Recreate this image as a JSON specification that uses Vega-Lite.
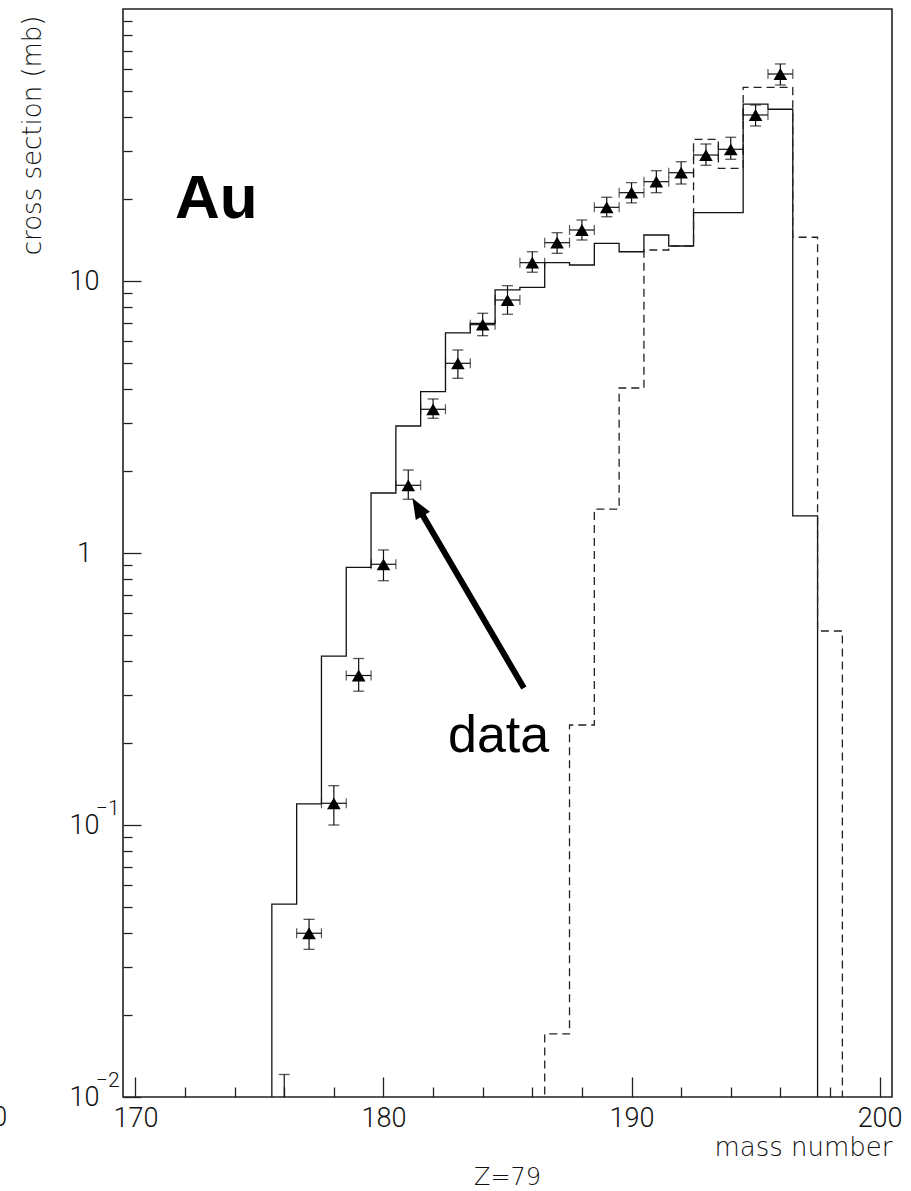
{
  "$schema": "https://vega.github.io/schema/vega-lite/v6.json",
  "width": 769,
  "height": 1088,
  "autosize": {"type": "none"},
  "padding": {"left": 123, "top": 9, "right": 19, "bottom": 94},
  "background": "white",
  "config": {
    "view": {"stroke": "#222", "strokeWidth": 1.6},
    "axis": {
      "domain": false, "grid": false,
      "tickColor": "#222", "tickWidth": 1.3,
      "labelFont": "Roboto", "labelFontWeight": 300, "labelFontSize": 27, "labelColor": "#111",
      "titleFont": "DejaVu Sans", "titleFontWeight": 200, "titleFontSize": 26, "titleColor": "#111",
      "labelOverlap": false, "labelFlush": false
    }
  },
  "title": {"text": "Z=79", "orient": "bottom", "anchor": "middle", "font": "DejaVu Sans", "fontSize": 24, "fontWeight": 200, "color": "#111", "offset": 6, "baseline": "top"},
  "datasets": {
    "solid": [
      {"A": 175, "v": 0.0001}, {"A": 176, "v": 0.0512}, {"A": 177, "v": 0.1195}, {"A": 178, "v": 0.418},
      {"A": 179, "v": 0.886}, {"A": 180, "v": 1.662}, {"A": 181, "v": 2.93}, {"A": 182, "v": 3.92},
      {"A": 183, "v": 6.45}, {"A": 184, "v": 6.99}, {"A": 185, "v": 9.27}, {"A": 186, "v": 9.48},
      {"A": 187, "v": 11.68}, {"A": 188, "v": 11.45}, {"A": 189, "v": 13.76}, {"A": 190, "v": 12.81},
      {"A": 191, "v": 14.76}, {"A": 192, "v": 13.45}, {"A": 193, "v": 17.83}, {"A": 194, "v": 17.83},
      {"A": 195, "v": 44.7}, {"A": 196, "v": 42.8}, {"A": 197, "v": 1.37}, {"A": 198, "v": 0.0001}
    ],
    "dashed": [
      {"A": 186, "v": 0.0001}, {"A": 187, "v": 0.01705}, {"A": 188, "v": 0.2332}, {"A": 189, "v": 1.451},
      {"A": 190, "v": 4.043}, {"A": 191, "v": 13.0}, {"A": 192, "v": 13.45}, {"A": 193, "v": 33.19},
      {"A": 194, "v": 25.96}, {"A": 195, "v": 51.53}, {"A": 196, "v": 51.53}, {"A": 197, "v": 14.48},
      {"A": 198, "v": 0.5166}, {"A": 199, "v": 0.0001}
    ],
    "points": [
      {"A": 176, "xl": 175.5, "xr": 176.5, "v": 0.008, "elo": 0.005, "ehi": 0.0121},
      {"A": 177, "xl": 176.5, "xr": 177.5, "v": 0.0400, "elo": 0.0349, "ehi": 0.0450},
      {"A": 178, "xl": 177.5, "xr": 178.5, "v": 0.1202, "elo": 0.100, "ehi": 0.1395},
      {"A": 179, "xl": 178.5, "xr": 179.5, "v": 0.3545, "elo": 0.3104, "ehi": 0.4094},
      {"A": 180, "xl": 179.5, "xr": 180.5, "v": 0.909, "elo": 0.791, "ehi": 1.026},
      {"A": 181, "xl": 180.5, "xr": 181.5, "v": 1.774, "elo": 1.576, "ehi": 2.019},
      {"A": 182, "xl": 181.5, "xr": 182.5, "v": 3.376, "elo": 3.128, "ehi": 3.683},
      {"A": 183, "xl": 182.5, "xr": 183.5, "v": 4.982, "elo": 4.388, "ehi": 5.577},
      {"A": 184, "xl": 183.5, "xr": 184.5, "v": 6.908, "elo": 6.294, "ehi": 7.609},
      {"A": 185, "xl": 184.5, "xr": 185.5, "v": 8.513, "elo": 7.545, "ehi": 9.61},
      {"A": 186, "xl": 185.5, "xr": 186.5, "v": 11.68, "elo": 10.77, "ehi": 12.81},
      {"A": 187, "xl": 186.5, "xr": 187.5, "v": 13.83, "elo": 12.64, "ehi": 15.05},
      {"A": 188, "xl": 187.5, "xr": 188.5, "v": 15.40, "elo": 14.15, "ehi": 16.76},
      {"A": 189, "xl": 188.5, "xr": 189.5, "v": 18.66, "elo": 17.23, "ehi": 20.32},
      {"A": 190, "xl": 189.5, "xr": 190.5, "v": 21.12, "elo": 19.36, "ehi": 22.98},
      {"A": 191, "xl": 190.5, "xr": 191.5, "v": 23.18, "elo": 21.12, "ehi": 25.44},
      {"A": 192, "xl": 191.5, "xr": 192.5, "v": 25.01, "elo": 22.73, "ehi": 27.45},
      {"A": 193, "xl": 192.5, "xr": 193.5, "v": 29.05, "elo": 26.63, "ehi": 31.89},
      {"A": 194, "xl": 193.5, "xr": 194.5, "v": 30.49, "elo": 28.02, "ehi": 33.76},
      {"A": 195, "xl": 194.5, "xr": 195.5, "v": 40.77, "elo": 37.15, "ehi": 44.37},
      {"A": 196, "xl": 195.5, "xr": 196.5, "v": 57.68, "elo": 52.55, "ehi": 62.8}
    ],
    "element": [{"x": 171.6, "y": 17.0, "t": "Au"}],
    "note": [{"x": 182.6, "y": 0.1855, "t": "data"}],
    "edge": [{"x": 164.83, "y": 0.01, "t": "200"}],
    "exps": [{"x": 169.5, "y": 0.1, "t": "−1"}, {"x": 169.5, "y": 0.01, "t": "−2"}],
    "arrow": [
      {"x": 185.66, "y": 0.319, "x2": 181.38, "y2": 1.48, "tipx": 181.17, "tipy": 1.589}
    ]
  },
  "resolve": {"axis": {"x": "independent", "y": "independent"}},
  "layer": [
    {
      "data": {"name": "solid"},
      "mark": {"type": "line", "interpolate": "step", "clip": true, "color": "#111", "strokeWidth": 1.3},
      "encoding": {
        "x": {"field": "A", "type": "quantitative",
              "scale": {"domain": [169.5, 200.5], "nice": false, "zero": false},
              "axis": {"orient": "bottom", "values": [170, 180, 190, 200], "tickSize": -20, "labelPadding": 28, "labelBaseline": "top", "format": "d",
                       "title": "mass number", "titleX": 769, "titleY": 50, "titleAlign": "right", "titleAnchor": "end", "titleBaseline": "middle"}},
        "y": {"field": "v", "type": "quantitative",
              "scale": {"type": "log", "domain": [0.01, 100], "nice": false},
              "axis": {"orient": "left", "values": [0.01, 0.1, 1, 10], "tickSize": -18, "labelPadding": 57, "labelAlign": "center", "labelBaseline": "middle",
                       "labelExpr": "datum.value >= 5 ? '10' : datum.value >= 0.5 ? '1' : '10'",
                       "labelOffset": 0,
                       "title": "cross section (mb)", "titleX": -91, "titleY": 6, "titleAlign": "right", "titleAngle": 270, "titleBaseline": "middle"}}
      }
    },
    {
      "data": {"name": "dashed"},
      "mark": {"type": "line", "interpolate": "step", "clip": true, "color": "#222", "strokeWidth": 1.3, "strokeDash": [8, 5]},
      "encoding": {
        "x": {"field": "A", "type": "quantitative",
              "scale": {"domain": [169.5, 200.5], "nice": false, "zero": false},
              "axis": {"orient": "bottom", "values": [172, 174, 176, 178, 182, 184, 186, 188, 192, 194, 196, 198], "tickSize": -10, "labels": false, "title": null}},
        "y": {"field": "v", "type": "quantitative",
              "scale": {"type": "log", "domain": [0.01, 100], "nice": false},
              "axis": {"orient": "left", "values": [0.02, 0.03, 0.04, 0.05, 0.06, 0.07, 0.08, 0.09, 0.2, 0.3, 0.4, 0.5, 0.6, 0.7, 0.8, 0.9, 2, 3, 4, 5, 6, 7, 8, 9, 20, 30, 40, 50, 60, 70, 80, 90], "tickSize": -9, "labels": false, "title": null}}
      }
    },
    {
      "data": {"name": "points"},
      "mark": {"type": "rule", "clip": true, "color": "#111", "strokeWidth": 1.2},
      "encoding": {
        "x": {"field": "A", "type": "quantitative", "scale": {"domain": [169.5, 200.5], "nice": false, "zero": false}, "axis": null},
        "y": {"field": "elo", "type": "quantitative", "scale": {"type": "log", "domain": [0.01, 100], "nice": false}, "axis": null},
        "y2": {"field": "ehi"}
      }
    },
    {
      "data": {"name": "points"},
      "mark": {"type": "rule", "clip": true, "color": "#111", "strokeWidth": 1.2},
      "encoding": {
        "x": {"field": "xl", "type": "quantitative", "scale": {"domain": [169.5, 200.5], "nice": false, "zero": false}, "axis": null},
        "x2": {"field": "xr"},
        "y": {"field": "v", "type": "quantitative", "scale": {"type": "log", "domain": [0.01, 100], "nice": false}, "axis": null}
      }
    },
    {
      "data": {"name": "points"},
      "mark": {"type": "tick", "orient": "horizontal", "clip": true, "color": "#111", "size": 11, "thickness": 1.3},
      "encoding": {
        "x": {"field": "A", "type": "quantitative", "scale": {"domain": [169.5, 200.5], "nice": false, "zero": false}, "axis": null},
        "y": {"field": "ehi", "type": "quantitative", "scale": {"type": "log", "domain": [0.01, 100], "nice": false}, "axis": null}
      }
    },
    {
      "data": {"name": "points"},
      "mark": {"type": "tick", "orient": "horizontal", "clip": true, "color": "#111", "size": 11, "thickness": 1.3},
      "encoding": {
        "x": {"field": "A", "type": "quantitative", "scale": {"domain": [169.5, 200.5], "nice": false, "zero": false}, "axis": null},
        "y": {"field": "elo", "type": "quantitative", "scale": {"type": "log", "domain": [0.01, 100], "nice": false}, "axis": null}
      }
    },
    {
      "data": {"name": "points"},
      "mark": {"type": "tick", "orient": "vertical", "clip": true, "color": "#111", "size": 10, "thickness": 1.2},
      "encoding": {
        "x": {"field": "xl", "type": "quantitative", "scale": {"domain": [169.5, 200.5], "nice": false, "zero": false}, "axis": null},
        "y": {"field": "v", "type": "quantitative", "scale": {"type": "log", "domain": [0.01, 100], "nice": false}, "axis": null}
      }
    },
    {
      "data": {"name": "points"},
      "mark": {"type": "tick", "orient": "vertical", "clip": true, "color": "#111", "size": 10, "thickness": 1.2},
      "encoding": {
        "x": {"field": "xr", "type": "quantitative", "scale": {"domain": [169.5, 200.5], "nice": false, "zero": false}, "axis": null},
        "y": {"field": "v", "type": "quantitative", "scale": {"type": "log", "domain": [0.01, 100], "nice": false}, "axis": null}
      }
    },
    {
      "data": {"name": "points"},
      "mark": {"type": "point", "shape": "triangle-up", "filled": true, "clip": true, "color": "#000", "size": 185, "opacity": 1},
      "encoding": {
        "x": {"field": "A", "type": "quantitative", "scale": {"domain": [169.5, 200.5], "nice": false, "zero": false}, "axis": null},
        "y": {"field": "v", "type": "quantitative", "scale": {"type": "log", "domain": [0.01, 100], "nice": false}, "axis": null}
      }
    },
    {
      "data": {"name": "arrow"},
      "mark": {"type": "rule", "color": "#000", "strokeWidth": 6, "strokeCap": "butt"},
      "encoding": {
        "x": {"field": "x", "type": "quantitative", "scale": {"domain": [169.5, 200.5], "nice": false, "zero": false}, "axis": null},
        "y": {"field": "y", "type": "quantitative", "scale": {"type": "log", "domain": [0.01, 100], "nice": false}, "axis": null},
        "x2": {"field": "x2"},
        "y2": {"field": "y2"}
      }
    },
    {
      "data": {"name": "arrow"},
      "mark": {"type": "point", "shape": "M0,0L0.8,2L-0.8,2Z", "filled": true, "color": "#000", "size": 420, "angle": 329.6, "opacity": 1, "strokeWidth": 0},
      "encoding": {
        "x": {"field": "tipx", "type": "quantitative", "scale": {"domain": [169.5, 200.5], "nice": false, "zero": false}, "axis": null},
        "y": {"field": "tipy", "type": "quantitative", "scale": {"type": "log", "domain": [0.01, 100], "nice": false}, "axis": null}
      }
    },
    {
      "data": {"name": "element"},
      "mark": {"type": "text", "font": "Liberation Sans", "fontWeight": "bold", "fontSize": 62, "align": "left", "baseline": "alphabetic", "color": "#000"},
      "encoding": {
        "x": {"field": "x", "type": "quantitative", "scale": {"domain": [169.5, 200.5], "nice": false, "zero": false}, "axis": null},
        "y": {"field": "y", "type": "quantitative", "scale": {"type": "log", "domain": [0.01, 100], "nice": false}, "axis": null},
        "text": {"field": "t"}
      }
    },
    {
      "data": {"name": "note"},
      "mark": {"type": "text", "font": "Liberation Sans", "fontWeight": "normal", "fontSize": 52, "align": "left", "baseline": "alphabetic", "color": "#000"},
      "encoding": {
        "x": {"field": "x", "type": "quantitative", "scale": {"domain": [169.5, 200.5], "nice": false, "zero": false}, "axis": null},
        "y": {"field": "y", "type": "quantitative", "scale": {"type": "log", "domain": [0.01, 100], "nice": false}, "axis": null},
        "text": {"field": "t"}
      }
    },
    {
      "data": {"name": "exps"},
      "mark": {"type": "text", "font": "Roboto", "fontWeight": 300, "fontSize": 21, "align": "left", "baseline": "middle", "color": "#111", "dx": -27, "dy": -16, "clip": false},
      "encoding": {
        "x": {"field": "x", "type": "quantitative", "scale": {"domain": [169.5, 200.5], "nice": false, "zero": false}, "axis": null},
        "y": {"field": "y", "type": "quantitative", "scale": {"type": "log", "domain": [0.01, 100], "nice": false}, "axis": null},
        "text": {"field": "t"}
      }
    },
    {
      "data": {"name": "edge"},
      "mark": {"type": "text", "font": "Roboto", "fontWeight": 300, "fontSize": 27, "align": "right", "baseline": "top", "color": "#111", "dy": 8, "clip": false},
      "encoding": {
        "x": {"field": "x", "type": "quantitative", "scale": {"domain": [169.5, 200.5], "nice": false, "zero": false}, "axis": null},
        "y": {"field": "y", "type": "quantitative", "scale": {"type": "log", "domain": [0.01, 100], "nice": false}, "axis": null},
        "text": {"field": "t"}
      }
    }
  ]
}
